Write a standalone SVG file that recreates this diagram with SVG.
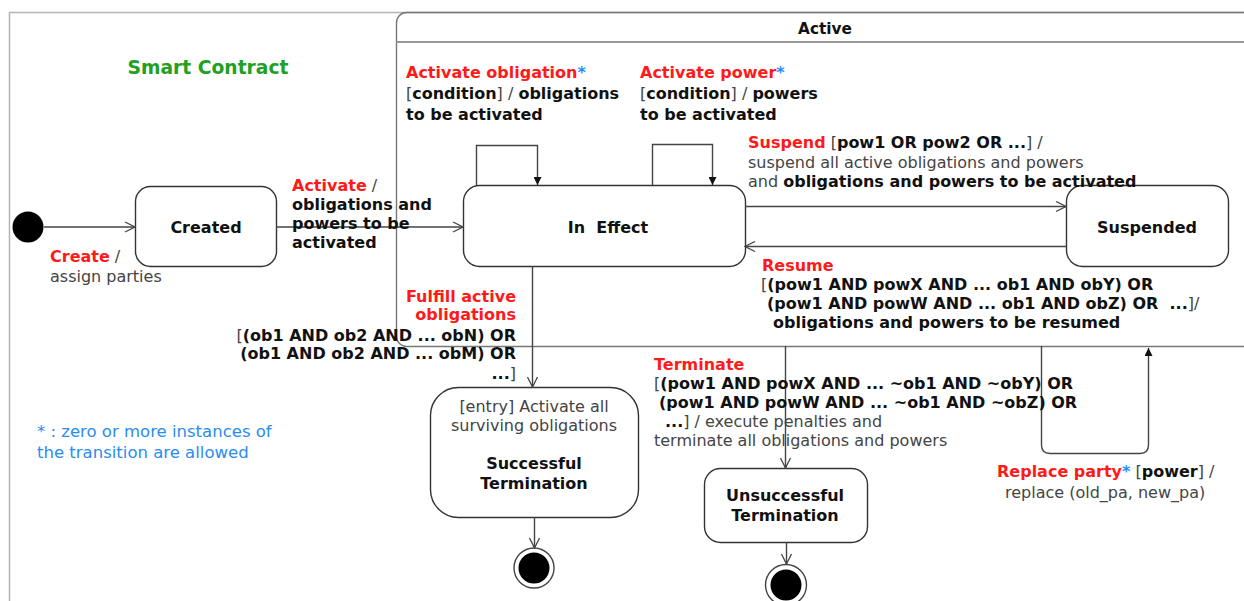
<svg xmlns="http://www.w3.org/2000/svg" width="1244" height="601" viewBox="0 0 1244 601">
  <defs>
    <style>
      text { font-family: "DejaVu Sans", Verdana, sans-serif; font-size: 16px; fill: #444; }
      .b { font-weight: bold; fill: #111; }
      .r { font-weight: bold; fill: #ff1a1a; }
      .s { font-weight: bold; fill: #1e90ff; }
      .title { font-weight: bold; font-size: 18.7px; fill: #22a022; }
      .hdr { font-weight: bold; font-size: 15.3px; fill: #111; }
      .legend { fill: #2a8cf0; font-size: 16.5px; }
      .state { fill: #fff; stroke: #333; stroke-width: 1.4; }
      .edge { fill: none; stroke: #444; stroke-width: 1.4; }
    </style>
    <marker id="open" viewBox="0 0 12 12" refX="11" refY="6" markerWidth="12" markerHeight="12" markerUnits="userSpaceOnUse" orient="auto">
      <path d="M1,1 L11,6 L1,11" fill="none" stroke="#444" stroke-width="1.3"/>
    </marker>
    <marker id="solid" viewBox="0 0 8 8" refX="8" refY="4" markerWidth="8" markerHeight="8" markerUnits="userSpaceOnUse" orient="auto">
      <path d="M0,0 L8,4 L0,8 z" fill="#111"/>
    </marker>
  </defs>

  <rect width="1244" height="601" fill="#fff"/>

  <!-- outer frame: Smart Contract -->
  <g id="smart-contract">
    <rect x="9.5" y="12.5" width="1260" height="640" fill="none" stroke="#b5b5b5" stroke-width="1.5"/>
    <text class="title" x="208" y="74" text-anchor="middle">Smart Contract</text>
  </g>

  <!-- composite state: Active -->
  <g id="active">
    <rect x="396.5" y="12.5" width="900" height="334" rx="10" fill="none" stroke="#777" stroke-width="1.4"/>
    <line x1="396.5" y1="42" x2="1244" y2="42" stroke="#999" stroke-width="2"/>
    <text class="hdr" x="825" y="34" text-anchor="middle">Active</text>
  </g>

  <!-- states -->
  <g id="initial">
    <circle cx="28" cy="227" r="15.5" fill="#000"/>
  </g>
  <g id="created">
    <rect class="state" x="135.5" y="186.5" width="141" height="80" rx="15"/>
    <text class="b" x="206" y="233" text-anchor="middle">Created</text>
  </g>
  <g id="in-effect">
    <rect class="state" x="463.5" y="185.5" width="282" height="81" rx="16"/>
    <text class="b" x="608" y="233" text-anchor="middle" xml:space="preserve">In  Effect</text>
  </g>
  <g id="suspended">
    <rect class="state" x="1066.5" y="185.5" width="162" height="81" rx="16"/>
    <text class="b" x="1147" y="233" text-anchor="middle">Suspended</text>
  </g>
  <g id="successful-termination">
    <rect class="state" x="430.5" y="387.5" width="208" height="130" rx="28"/>
    <text x="534" y="412" text-anchor="middle">[entry] Activate all</text>
    <text x="534" y="431" text-anchor="middle">surviving obligations</text>
    <text class="b" x="534" y="469" text-anchor="middle">Successful</text>
    <text class="b" x="534" y="489" text-anchor="middle">Termination</text>
  </g>
  <g id="unsuccessful-termination">
    <rect class="state" x="704.5" y="468.5" width="163" height="74" rx="16"/>
    <text class="b" x="785" y="501" text-anchor="middle">Unsuccessful</text>
    <text class="b" x="785" y="521" text-anchor="middle">Termination</text>
  </g>
  <g id="final-success">
    <circle cx="534" cy="568" r="20" fill="#fff" stroke="#444" stroke-width="1.4"/>
    <circle cx="534" cy="568" r="15.5" fill="#000"/>
  </g>
  <g id="final-failure">
    <circle cx="786" cy="585" r="20.5" fill="#fff" stroke="#444" stroke-width="1.4"/>
    <circle cx="786" cy="585" r="15.5" fill="#000"/>
  </g>

  <!-- transitions -->
  <g id="connectors">
    <path class="edge" d="M44,227 H135" marker-end="url(#open)"/>
    <path class="edge" d="M276,227 H463" marker-end="url(#open)"/>
    <path class="edge" d="M745,206.5 H1066" marker-end="url(#open)"/>
    <path class="edge" d="M1066,246.5 H745" marker-end="url(#open)"/>
    <path class="edge" d="M532.5,266 V387" marker-end="url(#open)"/>
    <path class="edge" d="M785.5,346 V468" marker-end="url(#open)"/>
    <path class="edge" d="M534.5,517 V548" marker-end="url(#open)"/>
    <path class="edge" d="M786.5,542 V564" marker-end="url(#open)"/>
    <path class="edge" d="M476.5,185 V145.5 H537.5 V185" marker-end="url(#solid)"/>
    <path class="edge" d="M652.5,185 V144.5 H712.5 V185" marker-end="url(#solid)"/>
    <path class="edge" d="M1041.5,346 V445 Q1041.5,453.5 1050,453.5 H1140 Q1148.5,453.5 1148.5,445 V348" marker-end="url(#solid)"/>
  </g>

  <!-- transition labels -->
  <g id="labels">
    <text x="50" y="262"><tspan class="r">Create</tspan><tspan> /</tspan></text>
    <text x="50" y="282">assign parties</text>

    <text x="292" y="191"><tspan class="r">Activate</tspan><tspan> /</tspan></text>
    <text class="b" x="292" y="210">obligations and</text>
    <text class="b" x="292" y="229">powers to be</text>
    <text class="b" x="292" y="248">activated</text>

    <text x="406" y="78"><tspan class="r">Activate obligation</tspan><tspan class="s">*</tspan></text>
    <text x="406" y="99"><tspan>[</tspan><tspan class="b">condition</tspan><tspan>] / </tspan><tspan class="b">obligations</tspan></text>
    <text class="b" x="406" y="120">to be activated</text>

    <text x="640" y="78"><tspan class="r">Activate power</tspan><tspan class="s">*</tspan></text>
    <text x="640" y="99"><tspan>[</tspan><tspan class="b">condition</tspan><tspan>] / </tspan><tspan class="b">powers</tspan></text>
    <text class="b" x="640" y="120">to be activated</text>

    <text x="748" y="148"><tspan class="r">Suspend</tspan><tspan> [</tspan><tspan class="b">pow1 OR pow2 OR ...</tspan><tspan>] /</tspan></text>
    <text x="748" y="168">suspend all active obligations and powers</text>
    <text x="748" y="187"><tspan>and </tspan><tspan class="b">obligations and powers to be activated</tspan></text>

    <text class="r" x="762" y="271">Resume</text>
    <text x="761" y="290"><tspan>[</tspan><tspan class="b">(pow1 AND powX AND ... ob1 AND obY) OR</tspan></text>
    <text x="767" y="309" xml:space="preserve"><tspan class="b">(pow1 AND powW AND ... ob1 AND obZ) OR  ...</tspan><tspan>]/</tspan></text>
    <text class="b" x="773" y="328">obligations and powers to be resumed</text>

    <text class="r" x="516" y="302" text-anchor="end">Fulfill active</text>
    <text class="r" x="516" y="320" text-anchor="end">obligations</text>
    <text x="516" y="341" text-anchor="end"><tspan>[</tspan><tspan class="b">(ob1 AND ob2 AND ... obN) OR</tspan></text>
    <text class="b" x="516" y="359" text-anchor="end">(ob1 AND ob2 AND ... obM) OR</text>
    <text x="516" y="379" text-anchor="end"><tspan class="b">...</tspan><tspan>]</tspan></text>

    <text class="r" x="654" y="370">Terminate</text>
    <text x="654" y="389"><tspan>[</tspan><tspan class="b">(pow1 AND powX AND ... ~ob1 AND ~obY) OR</tspan></text>
    <text class="b" x="659" y="408">(pow1 AND powW AND ... ~ob1 AND ~obZ) OR</text>
    <text x="665" y="427"><tspan class="b">...</tspan><tspan>] / execute penalties and</tspan></text>
    <text x="654" y="446">terminate all obligations and powers</text>

    <text x="997" y="477"><tspan class="r">Replace party</tspan><tspan class="s">*</tspan><tspan> [</tspan><tspan class="b">power</tspan><tspan>] /</tspan></text>
    <text x="1005" y="498">replace (old_pa, new_pa)</text>
  </g>

  <!-- legend -->
  <g id="legend">
    <text class="legend" x="37" y="437">* : zero or more instances of</text>
    <text class="legend" x="37" y="458">the transition are allowed</text>
  </g>
</svg>
